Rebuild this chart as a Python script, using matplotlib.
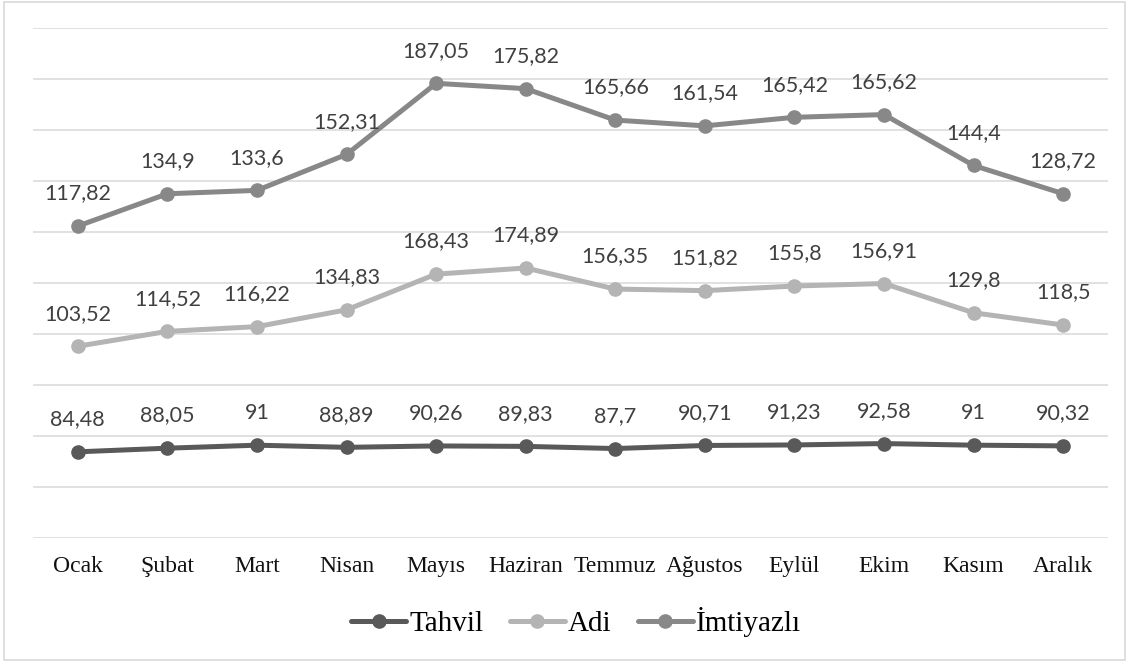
import matplotlib
matplotlib.use('Agg')
import matplotlib.pyplot as plt
from matplotlib.patches import Rectangle
import numpy as np

# ======== data ========
months = ['Ocak', 'Şubat', 'Mart', 'Nisan', 'Mayıs', 'Haziran', 'Temmuz',
          'Ağustos', 'Eylül', 'Ekim', 'Kasım', 'Aralık']
tahvil = [84.48, 88.05, 91, 88.89, 90.26, 89.83, 87.7, 90.71, 91.23, 92.58, 91, 90.32]
adi = [103.52, 114.52, 116.22, 134.83, 168.43, 174.89, 156.35, 151.82, 155.8, 156.91, 129.8, 118.5]
imtiyazli = [117.82, 134.9, 133.6, 152.31, 187.05, 175.82, 165.66, 161.54, 165.42, 165.62, 144.4, 128.72]
series_names = ['Tahvil', 'Adi', 'İmtiyazlı']
colors = ['#595959', '#B4B4B4', '#888888']

serif = 'Liberation Serif'
label_font = 'Lato'

fig = plt.figure(figsize=(11.3, 6.64), dpi=100)
ax = fig.add_axes([33 / 1130, 126 / 664, 1075 / 1130, 510 / 664])

# stacked line chart: each series drawn on top of the previous ones
x = np.arange(len(months))
stack = np.cumsum(np.array([tahvil, adi, imtiyazli]), axis=0)

for name, raw, cum, col in zip(series_names, [tahvil, adi, imtiyazli], stack, colors):
    ax.plot(x, cum, color=col, linewidth=3.6, marker='o', markersize=9.5,
            label=name, solid_capstyle='round', zorder=3)
    for xi, yi, v in zip(x, cum, raw):
        ax.annotate(f'{v:g}'.replace('.', ','), (xi, yi), xytext=(0, 23.5),
                    textcoords='offset points', ha='center', va='center',
                    fontsize=15.5, color='#404040', family=label_font)

ax.set_xlim(-0.5, len(months) - 0.5)
ax.set_ylim(0, 500)
ax.set_yticks(np.arange(0, 501, 50))
ax.set_yticklabels([])
ax.grid(axis='y', color='#DEDEDE', linewidth=1.3)
ax.set_axisbelow(True)
ax.tick_params(axis='both', length=0)
ax.set_xticks(x)
ax.set_xticklabels(months, family=serif, fontsize=17, color='#111111')
ax.tick_params(axis='x', pad=13)
for s in ax.spines.values():
    s.set_visible(False)

leg = fig.legend(loc='center', bbox_to_anchor=(576 / 1130, 42 / 664), ncol=3,
                 frameon=False, prop={'family': serif, 'size': 21},
                 handlelength=1.9, handletextpad=0.1, columnspacing=0.9)

# outer chart border
fig.patches.append(Rectangle((4 / 1130, 4 / 664), 1121 / 1130, 658 / 664,
                             transform=fig.transFigure, fill=False,
                             edgecolor='#D9D9D9', linewidth=1.2))

fig.savefig('out.png', dpi=100, facecolor='white')
